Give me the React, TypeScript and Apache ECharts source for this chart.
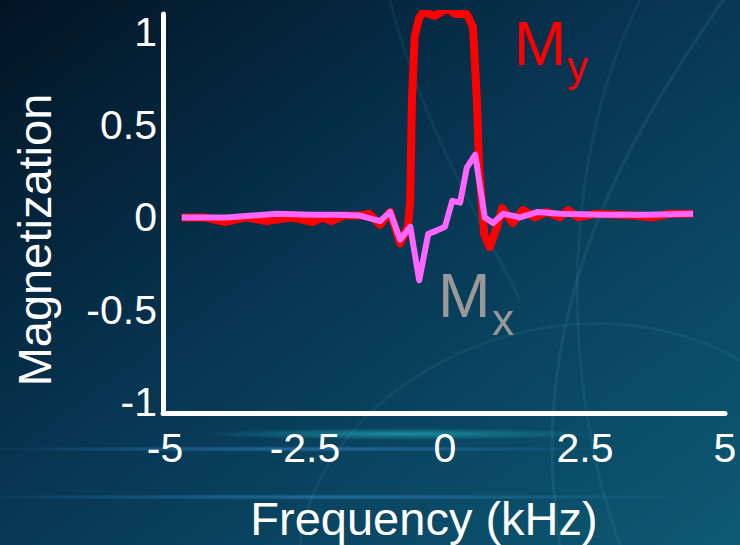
import React, { useEffect, useRef } from "react";
import * as echarts from "echarts";

// Frequency (kHz) sample positions and magnetization values
const freqMy = [-4.7, -4.3, -3.93, -3.55, -3.18, -2.75, -2.36, -2.2, -2.02, -1.8, -1.52, -1.35, -1.16, -0.98, -0.8, -0.66, -0.62, -0.59, -0.54, -0.46, -0.39, -0.18, 0.04, 0.18, 0.39, 0.5, 0.57, 0.61, 0.7, 0.8, 0.93, 1.02, 1.21, 1.39, 1.61, 1.82, 2.05, 2.2, 2.38, 2.7, 3.1, 3.4, 3.71, 4.0, 4.43];
const my = [0.0, 0.0, -0.025, 0.0, -0.02, 0.0, -0.025, 0.0, -0.02, 0.01, 0.01, 0.02, -0.04, 0.03, -0.14, -0.05, 0.1, 0.63, 0.98, 1.08, 1.11, 1.09, 1.13, 1.1, 1.1, 1.03, 0.63, 0.27, -0.09, -0.16, -0.05, 0.05, -0.03, 0.04, 0.0, 0.03, 0.0, 0.04, 0.0, 0.02, 0.015, 0.01, 0.0, 0.02, 0.02];

const freqMx = [-4.7, -3.9, -3.0, -2.4, -1.9, -1.52, -1.16, -0.98, -0.8, -0.62, -0.46, -0.3, -0.14, 0.0, 0.13, 0.27, 0.39, 0.54, 0.63, 0.71, 0.86, 1.04, 1.34, 1.66, 2.05, 2.8, 3.6, 4.43];
const mx = [0.0, 0.0, 0.02, 0.015, 0.015, 0.01, -0.02, 0.03, -0.12, -0.05, -0.34, -0.09, -0.07, -0.05, 0.09, 0.08, 0.27, 0.34, 0.16, 0.0, -0.03, 0.02, 0.0, 0.03, 0.02, 0.015, 0.015, 0.02];

const xTicks = [-5, -2.5, 0, 2.5, 5];
const yTicks = [-1, -0.5, 0, 0.5, 1];

const FONT = '"Liberation Sans", Arial, Helvetica, sans-serif';

export default function App() {
  const ref = useRef<HTMLDivElement>(null);
  useEffect(() => {
    if (!ref.current) return;
    const chart = echarts.init(ref.current, undefined, { renderer: "svg" });
    const pair = (xs: number[], ys: number[]) => xs.map((x, i) => [x, ys[i]]);
    chart.setOption({
      animation: false,
      backgroundColor: "transparent",
      grid: { left: 163, top: 14, width: 562, height: 399.5 },
      xAxis: {
        type: "value",
        min: -5.035,
        max: 5,
        axisLine: { show: true, onZero: false, lineStyle: { color: "#ffffff", width: 5 } },
        axisTick: { show: false },
        splitLine: { show: false },
        axisLabel: {
          customValues: xTicks,
          color: "#ffffff",
          fontSize: 41,
          fontFamily: FONT,
          margin: 14,
        },
      },
      yAxis: {
        type: "value",
        min: -1.06,
        max: 1.1,
        axisLine: { show: true, onZero: false, lineStyle: { color: "#ffffff", width: 5 } },
        axisTick: { show: false },
        splitLine: { show: false },
        axisLabel: {
          customValues: yTicks,
          color: "#ffffff",
          fontSize: 41,
          fontFamily: FONT,
          margin: 6,
        },
      },
      graphic: [
        {
          type: "rect",
          z: -100,
          silent: true,
          shape: { x: 0, y: 0, width: 740, height: 545 },
          style: {
            fill: new echarts.graphic.LinearGradient(0, 0, 1, 1, [
              { offset: 0, color: "#021424" },
              { offset: 0.45, color: "#073552" },
              { offset: 1, color: "#0d5a74" },
            ]),
          },
        },
        {
          type: "ellipse",
          z: -90,
          silent: true,
          shape: { cx: 400, cy: 434, rx: 200, ry: 6 },
          style: {
            fill: new echarts.graphic.RadialGradient(0.5, 0.5, 0.5, [
              { offset: 0, color: "rgba(40,200,210,0.55)" },
              { offset: 1, color: "rgba(40,200,210,0)" },
            ]),
          },
        },
        {
          type: "ellipse",
          z: -90,
          silent: true,
          shape: { cx: 300, cy: 449, rx: 330, ry: 3 },
          style: {
            fill: new echarts.graphic.RadialGradient(0.5, 0.5, 0.5, [
              { offset: 0, color: "rgba(60,140,210,0.55)" },
              { offset: 1, color: "rgba(60,140,210,0)" },
            ]),
          },
        },
        {
          type: "ellipse",
          z: -90,
          silent: true,
          shape: { cx: 330, cy: 497, rx: 380, ry: 3 },
          style: {
            fill: new echarts.graphic.RadialGradient(0.5, 0.5, 0.5, [
              { offset: 0, color: "rgba(60,150,220,0.5)" },
              { offset: 1, color: "rgba(60,150,220,0)" },
            ]),
          },
        },
        {
          type: "bezierCurve",
          z: -80,
          silent: true,
          shape: { x1: 560, y1: 545, x2: 730, y2: -10, cpx1: 520, cpy1: 300, cpx2: 640, cpy2: 120 },
          style: { stroke: "rgba(120,200,220,0.10)", lineWidth: 3, fill: "none" },
        },
        {
          type: "bezierCurve",
          z: -80,
          silent: true,
          shape: { x1: 620, y1: 545, x2: 640, y2: 0, cpx1: 560, cpy1: 380, cpx2: 560, cpy2: 160 },
          style: { stroke: "rgba(120,200,220,0.08)", lineWidth: 3, fill: "none" },
        },
        {
          type: "bezierCurve",
          z: -80,
          silent: true,
          shape: { x1: 300, y1: 545, x2: 740, y2: 360, cpx1: 320, cpy1: 380, cpx2: 560, cpy2: 260 },
          style: { stroke: "rgba(120,200,220,0.08)", lineWidth: 3, fill: "none" },
        },
        {
          type: "bezierCurve",
          z: -80,
          silent: true,
          shape: { x1: 390, y1: 0, x2: 520, y2: 300, cpx1: 420, cpy1: 120, cpx2: 480, cpy2: 220 },
          style: { stroke: "rgba(120,200,220,0.08)", lineWidth: 3, fill: "none" },
        },
        {
          type: "text",
          z: 10,
          x: 34,
          y: 240,
          rotation: Math.PI / 2,
          style: {
            text: "Magnetization",
            fill: "#ffffff",
            fontSize: 47,
            fontFamily: FONT,
            align: "center",
            verticalAlign: "middle",
          },
        },
        {
          type: "text",
          z: 10,
          x: 424,
          y: 518,
          style: {
            text: "Frequency (kHz)",
            fill: "#ffffff",
            fontSize: 47,
            fontFamily: FONT,
            align: "center",
            verticalAlign: "middle",
          },
        },
        {
          type: "text",
          z: 10,
          x: 514,
          y: 43,
          style: { text: "M", fill: "#ff0000", fontSize: 63, fontFamily: FONT, align: "left", verticalAlign: "middle" },
        },
        {
          type: "text",
          z: 10,
          x: 567,
          y: 66,
          style: { text: "y", fill: "#ff0000", fontSize: 42, fontFamily: FONT, align: "left", verticalAlign: "middle" },
        },
        {
          type: "text",
          z: 10,
          x: 438,
          y: 295,
          style: { text: "M", fill: "#999999", fontSize: 63, fontFamily: FONT, align: "left", verticalAlign: "middle" },
        },
        {
          type: "text",
          z: 10,
          x: 492,
          y: 319,
          style: { text: "x", fill: "#999999", fontSize: 44, fontFamily: FONT, align: "left", verticalAlign: "middle" },
        },
      ],
      series: [
        {
          name: "My",
          type: "line",
          data: pair(freqMy, my),
          showSymbol: false,
          symbol: "none",
          lineStyle: { color: "#ff0000", width: 8, join: "round", cap: "butt" },
          z: 3,
        },
        {
          name: "Mx",
          type: "line",
          data: pair(freqMx, mx),
          showSymbol: false,
          symbol: "none",
          lineStyle: { color: "#ff66ff", width: 6, join: "round", cap: "butt" },
          z: 4,
        },
      ],
    });
    return () => chart.dispose();
  }, []);
  return (
    <div
      ref={ref}
      style={{ position: "absolute", left: 0, top: 0, width: 740, height: 545 }}
    />
  );
}
